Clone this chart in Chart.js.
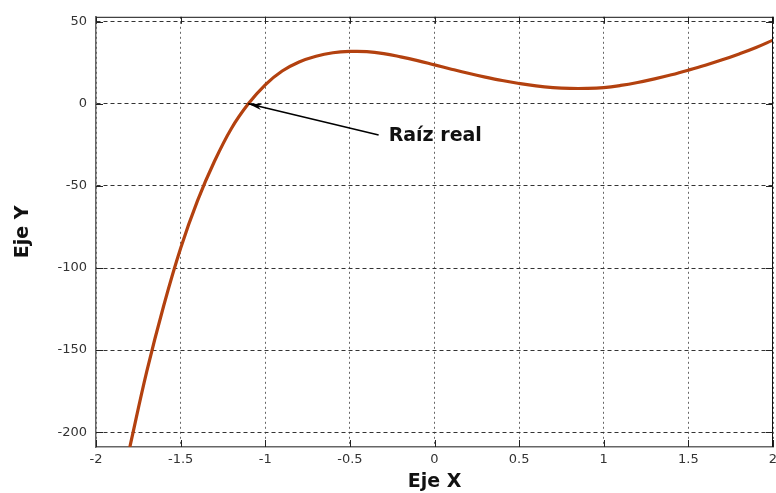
<!DOCTYPE html>
<html>
<head>
<meta charset="utf-8">
<script src="https://cdn.jsdelivr.net/npm/chart.js@4"></script>
<style>
  html, body { margin: 0; padding: 0; background: #fff; }
  #wrap { width: 776px; height: 493px; }
</style>
</head>
<body>
<div id="wrap"><canvas id="chart"></canvas></div>
<script>
// Data
const xValues = [-1.8, -1.7, -1.6, -1.5, -1.4, -1.3, -1.2, -1.1, -1.0, -0.9, -0.8, -0.7, -0.6, -0.5, -0.4, -0.3, -0.2, -0.1,
                 0.0, 0.1, 0.2, 0.3, 0.4, 0.5, 0.6, 0.7, 0.8, 0.9, 1.0, 1.1, 1.2, 1.3, 1.4, 1.5, 1.6, 1.7, 1.8, 1.9, 2.0];
const yValues = [-209, -163, -123, -88, -59, -35, -15, 0, 11.6, 20, 25.5, 29, 31.1, 31.9, 31.8, 30.6, 28.6, 26.3,
                 23.7, 21.1, 18.6, 16.3, 14.2, 12.4, 10.9, 9.9, 9.4, 9.4, 9.9, 11.2, 13, 15.2, 17.7, 20.5, 23.5, 26.8, 30.4, 34.3, 38.8];
const xTicks = [-2, -1.5, -1, -0.5, 0, 0.5, 1, 1.5, 2];
const yTicks = [-200, -150, -100, -50, 0, 50];

// annotation: arrow from label to the real root
const rootPoint = { x: -1.1, y: 0 };
const labelPoint = { x: -0.33, y: -19 };
const labelText = 'Raíz real';

const points = xValues.map((x, i) => ({ x: x, y: yValues[i] }));

const boxPlugin = {
    id: 'box',
    afterDatasetsDraw(chart) {
        const { ctx, chartArea: a, scales: { x, y } } = chart;
        ctx.save();
        // top and right edges of the box
        ctx.strokeStyle = '#111';
        ctx.lineWidth = 1;
        ctx.beginPath();
        ctx.moveTo(a.left, a.top + 0.5);
        ctx.lineTo(a.right, a.top + 0.5);
        ctx.moveTo(a.right - 0.5, a.top);
        ctx.lineTo(a.right - 0.5, a.bottom);
        ctx.stroke();

        // inward tick marks
        const len = 7;
        ctx.strokeStyle = '#222';
        ctx.beginPath();
        x.ticks.forEach(t => {
            const px = Math.round(x.getPixelForValue(t.value)) + 0.5;
            ctx.moveTo(px, a.bottom); ctx.lineTo(px, a.bottom - len);
            ctx.moveTo(px, a.top); ctx.lineTo(px, a.top + len);
        });
        y.ticks.forEach(t => {
            const py = Math.round(y.getPixelForValue(t.value)) + 0.5;
            ctx.moveTo(a.left, py); ctx.lineTo(a.left + len, py);
            ctx.moveTo(a.right, py); ctx.lineTo(a.right - len, py);
        });
        ctx.stroke();

        // arrow + label
        const hx = x.getPixelForValue(rootPoint.x), hy = y.getPixelForValue(rootPoint.y);
        const tx = x.getPixelForValue(labelPoint.x), ty = y.getPixelForValue(labelPoint.y);
        ctx.strokeStyle = '#000';
        ctx.fillStyle = '#000';
        ctx.lineWidth = 1.6;
        ctx.beginPath();
        ctx.moveTo(tx, ty);
        ctx.lineTo(hx, hy);
        ctx.stroke();
        const ang = Math.atan2(ty - hy, tx - hx);
        const hl = 14, hw = 0.22;
        ctx.beginPath();
        ctx.moveTo(hx, hy);
        ctx.lineTo(hx + hl * Math.cos(ang - hw), hy + hl * Math.sin(ang - hw));
        ctx.lineTo(hx + hl * 0.7 * Math.cos(ang), hy + hl * 0.7 * Math.sin(ang));
        ctx.lineTo(hx + hl * Math.cos(ang + hw), hy + hl * Math.sin(ang + hw));
        ctx.closePath();
        ctx.fill();

        ctx.font = 'bold 19px "DejaVu Sans"';
        ctx.fillStyle = '#111';
        ctx.textBaseline = 'middle';
        ctx.textAlign = 'left';
        ctx.fillText(labelText, tx + 10, ty + 1);
        ctx.restore();
    }
};

new Chart(document.getElementById('chart'), {
    type: 'line',
    data: {
        datasets: [{
            data: points,
            borderColor: '#b3410f',
            borderWidth: 3.2,
            pointRadius: 0,
            fill: false,
            tension: 0.4
        }]
    },
    options: {
        responsive: true,
        maintainAspectRatio: false,
        animation: false,
        events: [],
        layout: { padding: { top: 13, right: 3, left: 0, bottom: 0 } },
        plugins: { legend: { display: false }, tooltip: { enabled: false } },
        scales: {
            x: {
                type: 'linear',
                min: -2,
                max: 2,
                afterBuildTicks: s => { s.ticks = xTicks.map(v => ({ value: v })); },
                afterFit: s => { s.height = 46; s.paddingLeft = 0; s.paddingRight = 0; },
                ticks: {
                    color: '#333',
                    font: { family: '"DejaVu Sans"', size: 13 },
                    padding: 5,
                    maxRotation: 0,
                    callback: v => String(v)
                },
                grid: { color: '#666', lineWidth: 1, drawTicks: false },
                border: { display: true, color: '#666', width: 1.5, dash: [2, 3] },
                title: {
                    display: true,
                    text: 'Eje X',
                    color: '#111',
                    font: { family: '"DejaVu Sans"', size: 19, weight: 'bold' },
                    padding: { top: 0, bottom: 0 }
                }
            },
            y: {
                type: 'linear',
                min: -209,
                max: 53,
                afterBuildTicks: s => { s.ticks = yTicks.map(v => ({ value: v })); },
                afterFit: s => { s.width = 96; },
                ticks: {
                    color: '#333',
                    font: { family: '"DejaVu Sans"', size: 13 },
                    padding: 9,
                    callback: v => String(v)
                },
                grid: { color: '#333', lineWidth: 1, drawTicks: false },
                border: { display: true, color: '#666', width: 1.5, dash: [4, 3] },
                title: {
                    display: true,
                    text: 'Eje Y',
                    color: '#111',
                    font: { family: '"DejaVu Sans"', size: 19, weight: 'bold' },
                    padding: { top: 12, bottom: 0 }
                }
            }
        }
    },
    plugins: [boxPlugin]
});
</script>
</body>
</html>
